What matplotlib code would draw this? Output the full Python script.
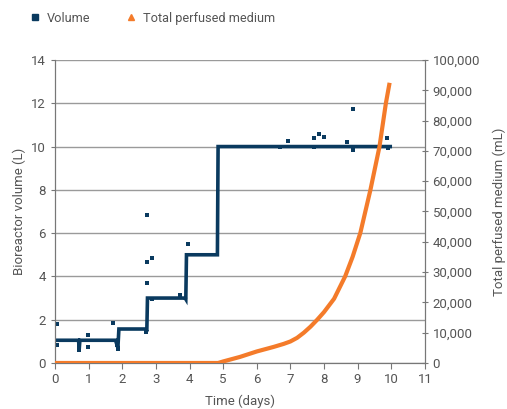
import matplotlib.pyplot as plt
from matplotlib.lines import Line2D
from matplotlib.ticker import FuncFormatter

plt.rcParams['font.family'] = ['Roboto', 'DejaVu Sans']

NAVY = '#0a3a5f'
ORANGE = '#f47b2a'
TEXT = '#555555'
GRID = '#9a9a9a'

# volume trace (L), stepped
vol_line_x = [0, 0.70, 0.72, 0.74, 1.80, 1.84, 1.87, 1.90, 2.70, 2.73, 2.75,
              3.87, 3.89, 3.91, 4.83, 4.85, 9.97]
vol_line_y = [1.05, 1.05, 0.65, 1.05, 1.05, 0.85, 0.70, 1.57, 1.57, 1.45, 3.0,
              3.0, 2.95, 5.0, 5.0, 10.0, 10.0]

# individual volume readings (L)
vol_pts_x = [0.05, 0.05, 0.71, 0.71, 0.99, 0.99, 1.72, 1.84, 1.88, 2.71,
             2.75, 2.75, 2.88, 2.75, 2.88, 3.72, 3.95,
             6.70, 6.92, 7.71, 7.86, 7.99, 7.71, 8.68, 8.86, 8.68, 8.86, 9.87, 9.90]
vol_pts_y = [1.80, 0.83, 0.98, 0.60, 1.29, 0.75, 1.83, 0.83, 0.63, 1.42,
             6.84, 4.65, 4.87, 3.68, 2.94, 3.14, 5.48,
             9.97, 10.26, 10.40, 10.57, 10.44, 9.97, 10.20, 11.72, 10.23, 9.84, 10.38, 9.93]

# total perfused medium (mL)
med_x = [0, 4.85, 5.0, 5.5, 6.0, 6.5, 6.8, 7.0, 7.2, 7.4, 7.6, 7.8, 8.0, 8.3,
         8.63, 8.85, 9.08, 9.38, 9.65, 9.84, 9.94]
med_y = [0, 0, 500, 2000, 3800, 5300, 6300, 7100, 8300, 10000, 12000, 14300,
         16800, 21200, 28600, 35000, 42900, 57100, 71400, 85700, 91800]

fig = plt.figure(figsize=(5.07, 4.09), dpi=100)
ax = fig.add_axes([0.1085, 0.1125, 0.7295, 0.7408])
ax2 = ax.twinx()

ax.plot(vol_line_x, vol_line_y, color=NAVY, lw=2.6, solid_joinstyle='miter', zorder=3)
ax.scatter(vol_pts_x, vol_pts_y, marker='s', s=9, color=NAVY, linewidths=0, zorder=4)
ax2.plot(med_x, med_y, color=ORANGE, lw=3, zorder=5)

ax.set_xlim(0, 11)
ax.set_ylim(0, 14)
ax.set_xticks(range(0, 12))
ax.set_yticks(range(0, 15, 2))
ax2.set_ylim(0, 100000)
ax2.set_yticks(range(0, 100001, 10000))
ax2.yaxis.set_major_formatter(FuncFormatter(lambda v, p: f'{int(v):,}'))

ax.grid(axis='y', color=GRID, lw=1)
ax.set_axisbelow(True)

for a in (ax, ax2):
    for s in a.spines.values():
        s.set_color('#777777')
    a.spines['top'].set_visible(False)
    a.tick_params(colors='#777777', labelcolor=TEXT, labelsize=9.5)
ax.tick_params(axis='x', length=4, direction='out')
ax.tick_params(axis='y', length=3, direction='out')
ax2.tick_params(axis='y', length=4, direction='inout')

ax.set_xlabel('Time (days)', color=TEXT, fontsize=9.5, labelpad=6)
ax.set_ylabel('Bioreactor volume (L)', color=TEXT, fontsize=9.5, labelpad=4)
ax2.set_ylabel('Total perfused medium (mL)', color=TEXT, fontsize=9.5, labelpad=9)

handles = [Line2D([], [], ls='none', marker='s', ms=4, color=NAVY),
           Line2D([], [], ls='none', marker='^', ms=5, color=ORANGE)]
fig.legend(handles, ['Volume', 'Total perfused medium'], loc='upper left',
           bbox_to_anchor=(0.032, 1.0), ncol=2, frameon=False, fontsize=9.2,
           labelcolor=TEXT, handletextpad=0.3, columnspacing=2.6, handlelength=1.2)

fig.savefig('out.png', dpi=100)
